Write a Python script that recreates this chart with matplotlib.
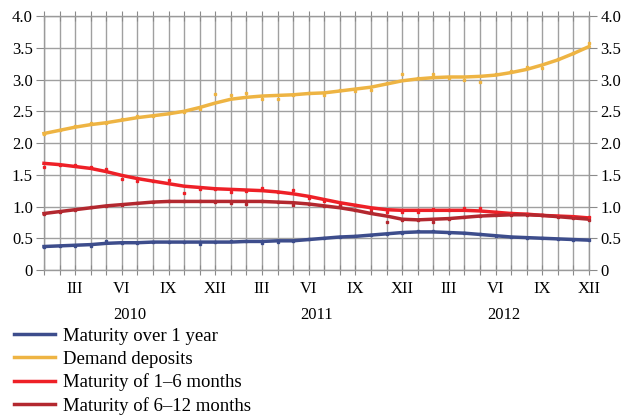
import numpy as np
import matplotlib

matplotlib.use('Agg')
import matplotlib.pyplot as plt
from matplotlib.lines import Line2D

plt.rcParams['font.family'] = ['Liberation Serif', 'DejaVu Serif']

# monthly points, Jan 2010 - Dec 2012
months = np.arange(36)
month_labels = ['III', 'VI', 'IX', 'XII'] * 3
month_label_pos = [2, 5, 8, 11, 14, 17, 20, 23, 26, 29, 32, 35]
years = ['2010', '2011', '2012']

# trend lines
over1y_trend = [0.37, 0.38, 0.39, 0.40, 0.42, 0.43, 0.43, 0.44, 0.44, 0.44, 0.44, 0.44,
                0.44, 0.45, 0.45, 0.46, 0.46, 0.48, 0.50, 0.52, 0.53, 0.55, 0.57, 0.59,
                0.60, 0.60, 0.59, 0.58, 0.56, 0.54, 0.52, 0.51, 0.50, 0.49, 0.48, 0.47]
demand_trend = [2.15, 2.20, 2.25, 2.29, 2.32, 2.36, 2.40, 2.43, 2.46, 2.50, 2.56, 2.63,
                2.69, 2.72, 2.74, 2.75, 2.76, 2.78, 2.79, 2.82, 2.85, 2.88, 2.93, 2.98,
                3.01, 3.03, 3.04, 3.04, 3.05, 3.07, 3.11, 3.16, 3.23, 3.31, 3.41, 3.52]
m1_6_trend = [1.68, 1.66, 1.63, 1.60, 1.55, 1.49, 1.44, 1.40, 1.36, 1.32, 1.30, 1.28,
              1.27, 1.26, 1.25, 1.23, 1.20, 1.16, 1.11, 1.06, 1.02, 0.98, 0.95, 0.94,
              0.94, 0.94, 0.94, 0.94, 0.93, 0.91, 0.89, 0.88, 0.86, 0.85, 0.84, 0.82]
m6_12_trend = [0.89, 0.92, 0.95, 0.98, 1.01, 1.03, 1.05, 1.07, 1.08, 1.08, 1.08, 1.08,
               1.08, 1.08, 1.08, 1.07, 1.06, 1.04, 1.01, 0.98, 0.94, 0.89, 0.85, 0.80,
               0.79, 0.80, 0.81, 0.83, 0.85, 0.86, 0.87, 0.87, 0.86, 0.84, 0.82, 0.80]

# raw monthly values
over1y_pts = [0.37, 0.38, 0.38, 0.38, 0.45, 0.43, 0.43, 0.44, 0.44, 0.44, 0.41, 0.44,
              0.45, 0.46, 0.42, 0.44, 0.46, 0.49, 0.50, 0.52, 0.53, 0.55, 0.57, 0.59,
              0.61, 0.62, 0.59, 0.58, 0.56, 0.54, 0.52, 0.51, 0.50, 0.49, 0.48, 0.47]
demand_pts = [2.15, 2.20, 2.27, 2.31, 2.31, 2.38, 2.42, 2.43, 2.47, 2.49, 2.54, 2.77,
              2.75, 2.79, 2.69, 2.69, 2.75, 2.79, 2.75, 2.83, 2.82, 2.84, 2.94, 3.09,
              3.02, 3.08, 3.03, 3.00, 2.96, 3.09, 3.14, 3.20, 3.18, 3.32, 3.42, 3.57]
m1_6_pts = [1.63, 1.65, 1.65, 1.62, 1.59, 1.43, 1.40, 1.40, 1.41, 1.22, 1.27, 1.28,
            1.23, 1.24, 1.29, 1.23, 1.26, 1.13, 1.09, 1.02, 1.03, 0.96, 0.91, 0.92,
            0.92, 0.96, 0.94, 0.97, 0.97, 0.92, 0.90, 0.88, 0.86, 0.85, 0.84, 0.83]
m6_12_pts = [0.89, 0.91, 0.95, 0.99, 1.01, 1.03, 1.05, 1.07, 1.08, 1.08, 1.09, 1.07,
             1.05, 1.04, 1.09, 1.07, 1.03, 1.04, 1.01, 1.01, 0.94, 0.91, 0.75, 0.79,
             0.78, 0.76, 0.81, 0.83, 0.85, 0.86, 0.87, 0.87, 0.86, 0.84, 0.82, 0.78]

names = ['Maturity over 1 year', 'Demand deposits',
         'Maturity of 1\u20136 months', 'Maturity of 6\u201312 months']
colors = ['#3d4d8c', '#eeb443', '#ee2027', '#b3282f']
trends = [over1y_trend, demand_trend, m1_6_trend, m6_12_trend]
points = [over1y_pts, demand_pts, m1_6_pts, m6_12_pts]

fig = plt.figure(figsize=(6.24, 4.17), dpi=100)
ax = fig.add_axes([0.0705, 0.3525, 0.8735, 0.609])

ax.set_xlim(0, 35)
ax.set_ylim(0, 4.0)
ax.set_xticks(months)
ax.set_xticklabels([])
ax.set_yticks(np.arange(0, 4.01, 0.5))
ax.set_yticklabels(['0', '0.5', '1.0', '1.5', '2.0', '2.5', '3.0', '3.5', '4.0'])
ax.grid(True, color='#a0a0a0', linewidth=1.0)
ax.set_axisbelow(True)
for s in ax.spines.values():
    s.set_color('#9a9a9a')
    s.set_linewidth(1.0)

ax.tick_params(axis='x', which='major', direction='inout', length=7, color='#8a8a8a',
               top=True, bottom=True)
ax.tick_params(axis='y', which='major', direction='out', length=6, color='#8a8a8a',
               left=True, right=True, labelleft=True, labelright=True, labelsize=12,
               pad=2)

for i in range(4):
    ax.plot(months, trends[i], color=colors[i], linewidth=2.5, zorder=3, clip_on=False)
    ax.plot(months, points[i], linestyle='none', marker='s', markersize=2.0,
            color=colors[i], zorder=4, clip_on=False)

for lab, pos in zip(month_labels, month_label_pos):
    ax.text(pos, -0.18, lab, ha='center', va='top', fontsize=12)
for k, yr in enumerate(years):
    ax.text(5.5 + 12 * k, -0.58, yr, ha='center', va='top', fontsize=12)

handles = [Line2D([0], [0], color=c, linewidth=2.5) for c in colors]
fig.legend(handles, names, loc='upper left', bbox_to_anchor=(0.01, 0.232),
           frameon=False, fontsize=13.5, handlelength=2.2, handletextpad=0.45,
           labelspacing=0.3, borderaxespad=0)

fig.savefig('out.png', dpi=100)
